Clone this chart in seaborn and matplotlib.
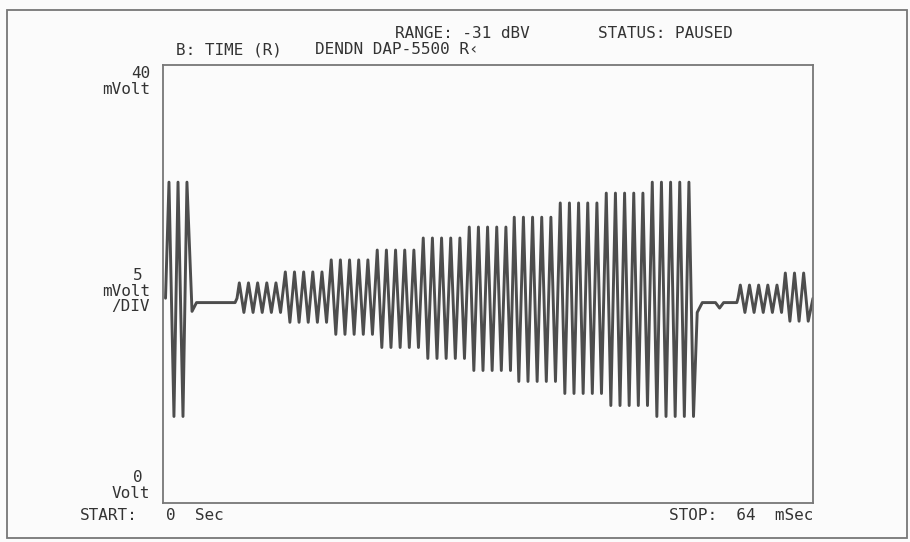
import numpy as np
import seaborn as sns
import matplotlib.pyplot as plt
from matplotlib.patches import Rectangle

sns.set_style("white")
plt.rcParams['font.family'] = ['DejaVu Sans Mono', 'DejaVu Sans']

# envelope of the stepped tone burst (ms / mVolt)
group_start = [7.29, 11.82, 16.34, 20.87, 25.40, 29.93, 34.36, 38.89, 43.42, 47.95]
group_peak = [20.1, 21.1, 22.2, 23.1, 24.2, 25.2, 26.1, 27.4, 28.3, 29.3]
group_trough = [17.4, 16.5, 15.4, 14.2, 13.2, 12.1, 11.1, 10.0, 8.9, 7.9]
cycles_per_group = 5
period_ms = 0.902

# the burst repeats: first two groups again after the gap
repeat_start = [56.62, 61.05]
repeat_peak = [19.9, 21.0]
repeat_trough = [17.4, 16.6]
repeat_cycles = [5, 3]

# tail of previous burst at the left edge, then quiet baseline
lead_t = [0.25, 0.59, 1.08, 1.48, 1.97, 2.36, 2.86, 3.30, 7.10]
lead_v = [18.7, 29.3, 7.9, 29.3, 7.9, 29.3, 17.5, 18.3, 18.3]
gap_t = [52.60, 53.10, 54.40, 54.80, 55.20, 56.50]
gap_v = [17.4, 18.3, 18.3, 17.8, 18.3, 18.3]
centre_mv = 18.7


def burst(starts, peaks, troughs, ncyc):
    t, v = [], []
    for s, p, q, n in zip(starts, peaks, troughs, ncyc):
        for k in range(n):
            t += [s + (k + 0.25) * period_ms, s + (k + 0.75) * period_ms]
            v += [p, q]
    return t, v


bt, bv = burst(group_start, group_peak, group_trough, [cycles_per_group] * len(group_start))
rt, rv = burst(repeat_start, repeat_peak, repeat_trough, repeat_cycles)

t = lead_t + [group_start[0]] + bt + gap_t + [repeat_start[0]] + rt + [64.0]
v = lead_v + [centre_mv] + bv + gap_v + [centre_mv] + rv + [centre_mv]

fig = plt.figure(figsize=(9.1, 5.42), dpi=100, facecolor='#fbfbfb')
ax = fig.add_axes([0.1791, 0.0720, 0.7143, 0.8081])
ax.set_facecolor('#fbfbfb')

sns.lineplot(x=t, y=v, sort=False, estimator=None, color='#4d4d4d', linewidth=2.1,
             solid_joinstyle='round', ax=ax)

ax.set_xlim(0, 64)
ax.set_ylim(0, 40)
ax.set_xticks([])
ax.set_yticks([])
for s in ax.spines.values():
    s.set_color('#777777')
    s.set_linewidth(1.3)

W, H = 910, 542
fs = 11.5
tc = '#333333'


def put(x, y, s, ha='left'):
    fig.text(x / W, 1 - y / H, s, ha=ha, va='center', fontsize=fs, color=tc)


put(395, 33, 'RANGE: -31 dBV')
put(598, 33, 'STATUS: PAUSED')
put(176, 50, 'B: TIME (R)')
put(315, 50, 'DENDN DAP-5500 R‹')
put(150, 73, '40', 'right')
put(150, 89, 'mVolt', 'right')
put(143, 275, '5', 'right')
put(150, 291, 'mVolt', 'right')
put(150, 307, '/DIV', 'right')
put(143, 478, '0', 'right')
put(150, 494, 'Volt', 'right')
put(80, 515, 'START:')
put(166, 515, '0  Sec')
put(813, 515, 'STOP:  64  mSec', 'right')

fig.add_artist(Rectangle((7 / W, 1 - 538 / H), 900 / W, 528 / H, transform=fig.transFigure,
                         fill=False, edgecolor='#777777', linewidth=1.3))

fig.savefig('out.png', dpi=100, facecolor=fig.get_facecolor())
